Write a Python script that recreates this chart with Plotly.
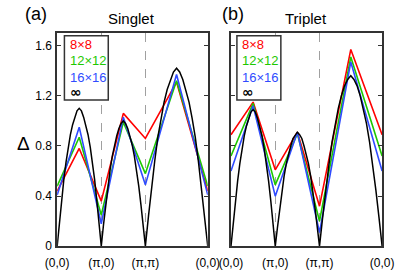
import numpy as np
import plotly.graph_objects as go

W, H = 407, 276

# ---------------- data ----------------
path_x = [0, 1, 2, 3.414]
path_labels = ["(0,0)", "(π,0)", "(π,π)", "(0,0)"]
series_names = ["8×8", "12×12", "16×16", "∞"]
colors = ["#ff0000", "#1ec800", "#2f4bff", "#000000"]
panel_titles = ["Singlet", "Triplet"]
panel_tags = ["(a)", "(b)"]
y_ticks = [0, 0.4, 0.8, 1.2, 1.6]
y_tick_text = ["0", "0.4", "0.8", "1.2", "1.6"]

# finite-size gaps at points along the path
fs_x = [0, 0.5, 1, 1.5, 2, 2.707, 3.414]
singlet_8 = [0.44, 0.78, 0.36, 1.06, 0.86, 1.31, 0.44]
singlet_12 = [0.48, 0.87, 0.25, 0.99, 0.58, 1.32, 0.48]
singlet_16 = [0.41, 0.95, 0.18, 1.03, 0.49, 1.37, 0.41]
triplet_8 = [0.89, 1.15, 0.61, 0.91, 0.32, 1.57, 0.89]
triplet_12 = [0.72, 1.14, 0.49, 0.90, 0.20, 1.51, 0.72]
triplet_16 = [0.60, 1.12, 0.40, 0.91, 0.11, 1.47, 0.60]

# infinite-size curve, read per path segment (21 samples each)
singlet_inf_seg1 = [0, .19, .36, .53, .67, .79, .89, .97, 1.03, 1.08, 1.10, 1.08, 1.03, .97, .89, .79, .67, .53, .36, .19, 0]
singlet_inf_seg2 = [0, .17, .33, .48, .61, .72, .81, .88, .94, .98, 1.00, .98, .94, .88, .81, .72, .61, .48, .33, .17, 0]
singlet_inf_seg3 = [0, .24, .47, .68, .87, 1.02, 1.15, 1.25, 1.33, 1.39, 1.42, 1.39, 1.33, 1.25, 1.15, 1.02, .87, .68, .47, .24, 0]
triplet_inf_seg1 = [0, .19, .36, .52, .66, .78, .88, .96, 1.02, 1.07, 1.09, 1.07, 1.02, .96, .88, .78, .66, .52, .36, .19, 0]
triplet_inf_seg2 = [0, .15, .30, .44, .56, .66, .74, .80, .86, .89, .91, .89, .86, .80, .74, .66, .56, .44, .30, .15, 0]
triplet_inf_seg3 = [0, .23, .45, .65, .83, .98, 1.10, 1.20, 1.28, 1.33, 1.36, 1.33, 1.28, 1.20, 1.10, .98, .83, .65, .45, .23, 0]


def path_samples(n):
    xs = []
    for i in range(3):
        seg = np.linspace(path_x[i], path_x[i + 1], n)
        xs.extend(seg if i == 0 else seg[1:])
    return list(xs)


def join(s1, s2, s3):
    return list(s1) + list(s2[1:]) + list(s3[1:])


def fx(px):
    return px / W


def fy(py):
    return 1 - py / H


inf_x = path_samples(21)
panels = [
    [singlet_8, singlet_12, singlet_16, join(singlet_inf_seg1, singlet_inf_seg2, singlet_inf_seg3)],
    [triplet_8, triplet_12, triplet_16, join(triplet_inf_seg1, triplet_inf_seg2, triplet_inf_seg3)],
]

# ---------------- layout geometry (reference pixels) ----------------
px_dom = [(48, 208), (232.7, 393.3)]
py_top, py_bot = 34, 252.7

fig = go.Figure()
for p, series in enumerate(panels):
    xa = "x" if p == 0 else "x2"
    ya = "y" if p == 0 else "y2"
    for i, vals in enumerate(series):
        xs = fs_x if i < 3 else inf_x
        fig.add_trace(go.Scatter(
            x=xs, y=vals, mode="lines", xaxis=xa, yaxis=ya,
            line=dict(color=colors[i], width=1.6 if i < 3 else 1.5),
            showlegend=False, hoverinfo="skip"))

FONT = "Liberation Sans, Arial, sans-serif"
axis_font = dict(family=FONT, size=12, color="#000")
layout = dict(
    width=W, height=H, margin=dict(l=0, r=0, t=0, b=0),
    paper_bgcolor="white", plot_bgcolor="white",
    showlegend=False,
)
for p in range(2):
    sx = "" if p == 0 else "2"
    layout["xaxis" + sx] = dict(
        domain=[fx(px_dom[p][0]), fx(px_dom[p][1])], range=[0, 3.414],
        anchor="y" + sx, tickvals=path_x, ticktext=path_labels, ticks="",
        showgrid=True, gridcolor="#a0a0a0", gridwidth=0.8, griddash="dash",
        showline=True, linecolor="#333", linewidth=1.5, mirror=True,
        zeroline=False, tickfont=axis_font, ticklabelstandoff=5)
    layout["yaxis" + sx] = dict(
        domain=[fy(py_bot), fy(py_top)], range=[0, 1.7],
        anchor="x" + sx, tickvals=y_ticks, ticktext=y_tick_text,
        ticks="inside", ticklen=4, tickcolor="#333", tickwidth=1,
        showgrid=False, zeroline=False,
        showline=True, linecolor="#333", linewidth=1.5, mirror="ticks",
        showticklabels=(p == 0), tickfont=axis_font, ticklabelstandoff=1)
fig.update_layout(**layout)

ann = []
shapes = []
title_x = [127, 312]
tag_x = [25, 235]
box_x = [(55.7, 102.3), (239, 285.7)]
text_x = [59, 242.5]
leg_y = [45.5, 62.5, 79.5, 94.5]
for p in range(2):
    ann.append(dict(x=fx(title_x[p]), y=fy(19), xref="paper", yref="paper",
                    xanchor="center", yanchor="middle",
                    text=panel_titles[p], showarrow=False,
                    font=dict(family=FONT, size=15, color="#000")))
    ann.append(dict(x=fx(tag_x[p]), y=fy(14), xref="paper", yref="paper",
                    xanchor="center", yanchor="middle",
                    text=panel_tags[p], showarrow=False,
                    font=dict(family=FONT, size=18, color="#000")))
    shapes.append(dict(type="rect", xref="paper", yref="paper",
                       x0=fx(box_x[p][0]), x1=fx(box_x[p][1]),
                       y0=fy(102.7), y1=fy(36.7),
                       line=dict(color="#333", width=1.5), fillcolor="white", layer="above"))
    for i, name in enumerate(series_names):
        is_inf = (i == 3)
        ann.append(dict(x=fx(text_x[p]), y=fy(leg_y[i]), xref="paper", yref="paper",
                        xanchor="left", yanchor="middle", showarrow=False,
                        text=("<b>%s</b>" % name) if is_inf else name,
                        font=dict(family=("DejaVu Sans, sans-serif" if is_inf else FONT),
                                  size=14 if is_inf else 13, color=colors[i])))
ann.append(dict(x=fx(12), y=fy(147), xref="paper", yref="paper", text="Δ",
                xanchor="center", yanchor="middle", showarrow=False,
                font=dict(family=FONT, size=19, color="#000")))
fig.update_layout(annotations=ann, shapes=shapes)

fig.write_html("out.html", config={"displayModeBar": False},
               post_script="document.body.style.margin='0px';")
